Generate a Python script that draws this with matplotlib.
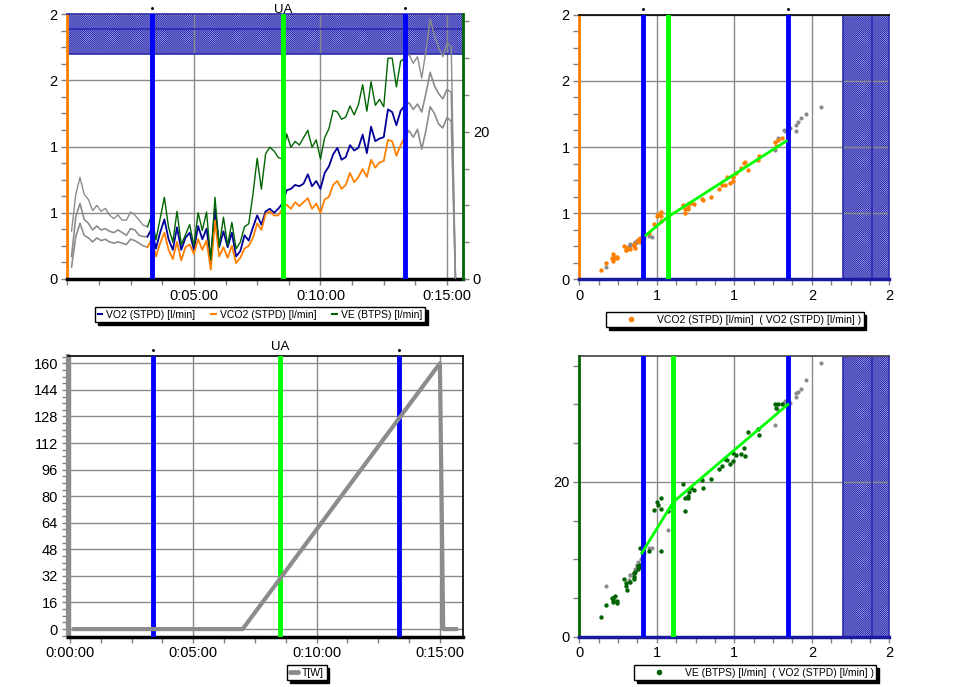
import numpy as np
import matplotlib
matplotlib.use("Agg")
import matplotlib.pyplot as plt
from matplotlib.lines import Line2D
from matplotlib.font_manager import FontProperties
from matplotlib.ticker import MultipleLocator, FixedLocator, FuncFormatter

plt.rcParams["font.family"] = ["Liberation Sans", "DejaVu Sans"]
plt.rcParams["hatch.linewidth"] = 0.35

# gas exchange, one averaged sample every 10 s
time_s = [10, 20, 30, 40, 50, 60, 70, 80, 90, 100,
          110, 120, 130, 140, 150, 160, 170, 180, 190, 200,
          210, 220, 230, 240, 250, 260, 270, 280, 290, 300,
          310, 320, 330, 340, 350, 360, 370, 380, 390, 400,
          410, 420, 430, 440, 450, 460, 470, 480, 490, 500,
          510, 520, 530, 540, 550, 560, 570, 580, 590, 600,
          610, 620, 630, 640, 650, 660, 670, 680, 690, 700,
          710, 720, 730, 740, 750, 760, 770, 780, 790, 800,
          810, 820, 830, 840, 850, 860, 870, 880, 890, 900,
          910, 920]
vo2 = [0.17, 0.47, 0.57, 0.45, 0.42, 0.37, 0.40, 0.37, 0.38, 0.36,
       0.35, 0.37, 0.35, 0.33, 0.38, 0.37, 0.33, 0.32, 0.32, 0.38,
       0.23, 0.35, 0.45, 0.30, 0.22, 0.39, 0.22, 0.31, 0.35, 0.22,
       0.40, 0.30, 0.38, 0.14, 0.53, 0.24, 0.36, 0.24, 0.35, 0.17,
       0.21, 0.33, 0.29, 0.39, 0.48, 0.41, 0.51, 0.53, 0.50, 0.53,
       0.57, 0.67, 0.68, 0.71, 0.70, 0.72, 0.79, 0.70, 0.74, 0.68,
       0.80, 0.85, 0.94, 0.99, 0.90, 0.92, 1.01, 0.97, 0.99, 1.09,
       0.95, 1.15, 1.04, 1.06, 1.07, 1.28, 1.26, 1.16, 1.27, 1.31,
       1.33, 1.28, 1.32, 1.26, 1.40, 1.56, 1.46, 1.40, 1.36, 1.43,
       1.41, 0.0]
vco2 = [0.09, 0.32, 0.42, 0.33, 0.31, 0.28, 0.31, 0.29, 0.30, 0.28,
        0.27, 0.28, 0.27, 0.26, 0.30, 0.29, 0.27, 0.25, 0.24, 0.30,
        0.17, 0.27, 0.35, 0.22, 0.15, 0.28, 0.14, 0.24, 0.26, 0.19,
        0.30, 0.22, 0.29, 0.07, 0.44, 0.17, 0.24, 0.16, 0.25, 0.12,
        0.16, 0.23, 0.25, 0.31, 0.42, 0.37, 0.49, 0.51, 0.48, 0.48,
        0.53, 0.56, 0.53, 0.58, 0.55, 0.58, 0.61, 0.53, 0.57, 0.50,
        0.60, 0.62, 0.71, 0.74, 0.68, 0.71, 0.80, 0.73, 0.77, 0.83,
        0.77, 0.90, 0.84, 0.88, 0.89, 1.05, 1.04, 0.93, 1.01, 1.07,
        1.12, 1.07, 1.13, 0.98, 1.12, 1.30, 1.25, 1.17, 1.14, 1.22,
        1.19, 0.0]
ve = [6.5, 11.5, 13.8, 11.5, 10.8, 9.3, 10.0, 9.2, 9.6, 8.7,
      8.2, 8.7, 8.0, 8.0, 9.1, 8.7, 8.0, 7.3, 7.1, 8.7,
      5.3, 8.2, 11.1, 7.0, 5.0, 9.2, 4.7, 6.0, 7.4, 4.5,
      9.0, 6.6, 9.1, 2.6, 11.1, 4.4, 8.4, 4.6, 7.7, 4.1,
      5.0, 7.1, 7.5, 11.5, 16.4, 12.2, 17.0, 17.9, 17.4, 16.5,
      16.3, 19.7, 17.9, 18.7, 18.2, 19.2, 20.2, 17.9, 18.9, 16.3,
      19.2, 20.4, 22.9, 22.7, 21.7, 22.0, 23.5, 22.3, 23.7, 26.4,
      22.8, 26.8, 23.6, 24.4, 23.4, 30.0, 30.0, 26.1, 29.6, 30.0,
      30.5, 29.3, 30.2, 27.3, 31.0, 35.3, 33.1, 31.5, 30.2, 32.0,
      31.6, 0.0]

# ergometer load
load_time_s = [8, 420, 900, 908, 941]
load_w = [0, 0, 160, 0, 0]

# threshold markers
limit_time_s = [201, 800]
ua_time_s = 512
limit_vo2 = [0.413, 1.348]
ua_vo2_vco2 = 0.569
ua_vo2_ve = 0.606

# predicted VO2max with its +-10 % range
vo2max_pred = 1.89
vo2max_low = 1.70
vo2max_high = 2.08

# piecewise fits through the scatter
fit_vco2_x = [0.430, 0.569, 1.334]
fit_vco2_y = [0.334, 0.470, 1.044]
fit_ve_x = [0.403, 0.606, 1.345]
fit_ve_y = [10.8, 17.4, 30.0]

C_VO2 = "#000099"
C_VCO2 = "#ff7f00"
C_VE = "#006400"
C_GRAY = "#8c8c8c"
C_BLUE = "#0000ff"
C_LIME = "#00ff00"
C_BAND = "#2b2bb0"
C_BAND_FILL = "#b0b0e8"
C_GRID = "#8a8a8a"

t = np.array(time_s)
vo2 = np.array(vo2)
vco2 = np.array(vco2)
ve = np.array(ve)

pre = t <= 190
mid = (t >= 190) & (t <= 800)
post = t >= 800
win = (t >= 200) & (t <= 800)
rest = ~win & (vo2 > 0)

legend_font = FontProperties(family="Liberation Sans", size=7.5)


def hms(v, pos=None):
    v = int(round(v))
    return f"{v // 3600}:{v % 3600 // 60:02d}:{v % 60:02d}"


def style_ticks(ax):
    ax.tick_params(which="both", direction="out", color="#808080",
                   length=4, width=1, labelsize=10.5, pad=3)


def top_dots(ax, xs):
    # tiny dot above each limit line
    ax.plot(xs, [1.022] * len(xs), ls="none", marker="o", ms=1.1, color="black",
            transform=ax.get_xaxis_transform(), clip_on=False)


def top_label(ax, x, label, offset=1):
    ax.annotate(label, xy=(x, 1), xycoords=ax.get_xaxis_transform(),
                xytext=(0, offset), textcoords="offset points",
                ha="center", va="baseline", fontsize=9.5)


def add_legend(handles, labels, x_px, y_px, ncol=1, **kw):
    leg = fig.legend(handles, labels, loc="upper left",
                     bbox_to_anchor=(x_px / 973, 1 - y_px / 687),
                     ncol=ncol, prop=legend_font, frameon=True, fancybox=False,
                     edgecolor="black", borderpad=0.25, borderaxespad=0,
                     shadow={"color": "black", "alpha": 1}, **kw)
    leg.get_frame().set_linewidth(1.0)
    return leg


def vo2max_band(ax, vertical):
    span = ax.axvspan if vertical else ax.axhspan
    line = ax.axvline if vertical else ax.axhline
    span(vo2max_low, vo2max_high, facecolor=C_BAND_FILL, edgecolor=C_BAND,
         hatch="xxxxxxxxxxxxxxxx", lw=0, zorder=0.5)
    for v in (vo2max_low, vo2max_pred):
        line(v, color=C_BAND, lw=1.2, zorder=0.6)


fig = plt.figure(figsize=(9.73, 6.87), dpi=100)

# ---- time course of VO2 / VCO2 / VE ----
ax1 = fig.add_axes([0.0692, 0.5939, 0.4067, 0.3857])
ax1r = ax1.twinx()

vo2max_band(ax1, vertical=False)

ax1.plot(t[pre], vo2[pre], color=C_GRAY, lw=1.2)
ax1.plot(t[pre], vco2[pre], color=C_GRAY, lw=1.2)
ax1.plot(t[post], vo2[post], color=C_GRAY, lw=1.2)
ax1.plot(t[post], vco2[post], color=C_GRAY, lw=1.2)
ax1.plot(t[mid], vo2[mid], color=C_VO2, lw=1.3)
ax1.plot(t[mid], vco2[mid], color=C_VCO2, lw=1.3)
ax1r.plot(t[pre], ve[pre], color=C_GRAY, lw=1.0)
ax1r.plot(t[post], ve[post], color=C_GRAY, lw=1.0)
ax1r.plot(t[mid], ve[mid], color=C_VE, lw=1.0)

for x in limit_time_s:
    ax1r.axvline(x, color=C_BLUE, lw=3.5, zorder=5)
ax1r.axvline(ua_time_s, color=C_LIME, lw=3.5, zorder=5)

ax1.set_xlim(0, 938)
ax1.set_ylim(0, 2.0)
ax1r.set_ylim(0, 36)
ax1.xaxis.set_major_locator(FixedLocator([300, 600, 900]))
ax1.xaxis.set_minor_locator(MultipleLocator(75))
ax1.xaxis.set_major_formatter(FuncFormatter(hms))
ax1.set_yticks([0, 0.5, 1.0, 1.5, 2.0], ["0", "1", "1", "2", "2"])
ax1.yaxis.set_minor_locator(MultipleLocator(0.125))
ax1r.set_yticks([0, 20], ["0", "20"])
ax1r.yaxis.set_minor_locator(MultipleLocator(5))
ax1.grid(True, which="major", color=C_GRID, lw=1.0)
ax1.set_axisbelow(True)
style_ticks(ax1)
style_ticks(ax1r)

ax1.spines["left"].set(color=C_VCO2, lw=2)
ax1.spines["bottom"].set(color="black", lw=2.5)
ax1.spines["top"].set(color=C_BAND, lw=1.2)
ax1.spines["right"].set_visible(False)
for s in ("left", "top", "bottom"):
    ax1r.spines[s].set_visible(False)
ax1r.spines["right"].set(color=C_VE, lw=2)

top_dots(ax1r, limit_time_s)
top_label(ax1r, ua_time_s, "UA")

add_legend([Line2D([], [], color=C_VO2, lw=1.5),
            Line2D([], [], color=C_VCO2, lw=1.5),
            Line2D([], [], color=C_VE, lw=1.5)],
           ["VO2 (STPD) [l/min]", "VCO2 (STPD) [l/min]", "VE (BTPS) [l/min]"],
           95, 307, ncol=3, handlelength=0.45, handletextpad=0.4, columnspacing=1.5)

# ---- VCO2 against VO2 ----
ax2 = fig.add_axes([0.5954, 0.5934, 0.3186, 0.3852])
vo2max_band(ax2, vertical=True)
ax2.scatter(vo2[rest], vco2[rest], s=9, color=C_GRAY, lw=0, zorder=3)
ax2.scatter(vo2[win], vco2[win], s=10, color=C_VCO2, lw=0, zorder=3)
for x in limit_vo2:
    ax2.axvline(x, color=C_BLUE, lw=3.5, zorder=4)
ax2.axvline(ua_vo2_vco2, color=C_LIME, lw=3.5, zorder=4)
ax2.plot(fit_vco2_x, fit_vco2_y, color=C_LIME, lw=2, zorder=5)

ax2.set_xlim(0, 2.0)
ax2.set_ylim(0, 2.0)
ax2.set_xticks([0, 0.5, 1.0, 1.5, 2.0], ["0", "1", "1", "2", "2"])
ax2.set_yticks([0, 0.5, 1.0, 1.5, 2.0], ["0", "1", "1", "2", "2"])
ax2.xaxis.set_minor_locator(MultipleLocator(0.125))
ax2.yaxis.set_minor_locator(MultipleLocator(0.125))
ax2.grid(True, which="major", color=C_GRID, lw=1.0)
ax2.set_axisbelow(True)
style_ticks(ax2)
ax2.spines["left"].set(color=C_VCO2, lw=2)
ax2.spines["bottom"].set(color="#1a1aa0", lw=2.5)
ax2.spines["top"].set(color="black", lw=1.2)
ax2.spines["right"].set(color=C_BAND, lw=1.2)
top_dots(ax2, limit_vo2)

add_legend([Line2D([], [], ls="none", marker="o", ms=3, color=C_VCO2)],
           ["VCO2 (STPD) [l/min]  ( VO2 (STPD) [l/min] )"],
           606, 312, handlelength=4.3, handletextpad=0.32)

# ---- load against time ----
ax3 = fig.add_axes([0.0696, 0.0732, 0.4066, 0.4086])
for x in limit_time_s:
    ax3.axvline(x, color=C_BLUE, lw=3.5, zorder=3)
ax3.axvline(ua_time_s, color=C_LIME, lw=3.5, zorder=3)
ax3.plot(load_time_s, load_w, color=C_GRAY, lw=3, solid_capstyle="round",
         solid_joinstyle="round", zorder=4)

ax3.set_xlim(-5.6, 957)
ax3.set_ylim(-4.6, 164.4)
ax3.xaxis.set_major_locator(FixedLocator([0, 300, 600, 900]))
ax3.xaxis.set_minor_locator(MultipleLocator(75))
ax3.xaxis.set_major_formatter(FuncFormatter(hms))
ax3.yaxis.set_major_locator(MultipleLocator(16))
ax3.yaxis.set_minor_locator(MultipleLocator(4))
ax3.grid(True, which="major", color=C_GRID, lw=1.0)
ax3.set_axisbelow(True)
style_ticks(ax3)
ax3.spines["left"].set(color=C_GRAY, lw=3)
ax3.spines["bottom"].set(color="black", lw=2.5)
ax3.spines["top"].set(color="black", lw=1.2)
ax3.spines["right"].set(color="black", lw=1.2)
top_dots(ax3, limit_time_s)
top_label(ax3, ua_time_s, "UA", offset=4)

add_legend([Line2D([], [], color=C_GRAY, lw=3.5, solid_capstyle="round")],
           ["T[W]"], 287, 665, handlelength=0.8, handletextpad=0.38)

# ---- VE against VO2 ----
ax4 = fig.add_axes([0.5954, 0.0732, 0.3186, 0.409])
vo2max_band(ax4, vertical=True)
ax4.scatter(vo2[rest], ve[rest], s=9, color=C_GRAY, lw=0, zorder=3)
ax4.scatter(vo2[win], ve[win], s=10, color=C_VE, lw=0, zorder=3)
for x in limit_vo2:
    ax4.axvline(x, color=C_BLUE, lw=3.5, zorder=4)
ax4.axvline(ua_vo2_ve, color=C_LIME, lw=3.5, zorder=4)
ax4.plot(fit_ve_x, fit_ve_y, color=C_LIME, lw=2, zorder=5)

ax4.set_xlim(0, 2.0)
ax4.set_ylim(0, 36.3)
ax4.set_xticks([0, 0.5, 1.0, 1.5, 2.0], ["0", "1", "1", "2", "2"])
ax4.xaxis.set_minor_locator(MultipleLocator(0.125))
ax4.set_yticks([0, 20], ["0", "20"])
ax4.yaxis.set_minor_locator(MultipleLocator(5))
ax4.grid(True, which="major", color=C_GRID, lw=1.0)
ax4.set_axisbelow(True)
style_ticks(ax4)
ax4.spines["left"].set(color=C_VE, lw=2)
ax4.spines["bottom"].set(color="#1a1aa0", lw=2.5)
ax4.spines["top"].set(color="#404040", lw=1.2)
ax4.spines["right"].set(color=C_BAND, lw=1.2)

add_legend([Line2D([], [], ls="none", marker="o", ms=3, color=C_VE)],
           ["VE (BTPS) [l/min]  ( VO2 (STPD) [l/min] )"],
           634, 665, handlelength=4.3, handletextpad=0.32)

fig.savefig("out.png", dpi=100, facecolor="white")
